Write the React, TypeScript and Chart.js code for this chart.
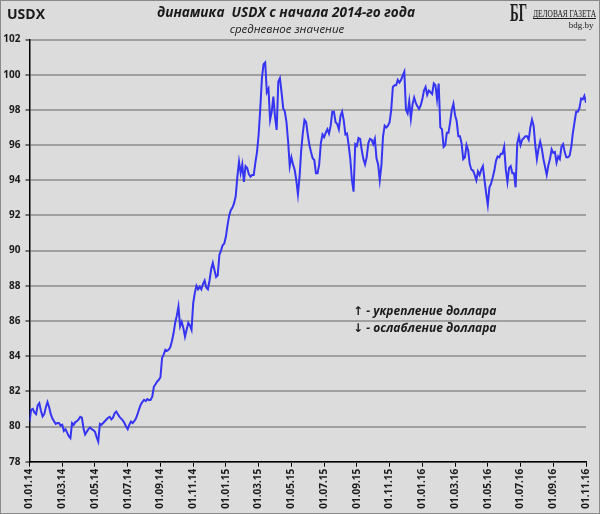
import { useEffect, useRef } from 'react'
import { Chart, registerables, Plugin } from 'chart.js'

Chart.register(...registerables)

// labels every 2 months, 01.01.14 .. 01.11.16
const tickLabels = [
  '01.01.14', '01.03.14', '01.05.14', '01.07.14', '01.09.14', '01.11.14',
  '01.01.15', '01.03.15', '01.05.15', '01.07.15', '01.09.15', '01.11.15',
  '01.01.16', '01.03.16', '01.05.16', '01.07.16', '01.09.16', '01.11.16',
]

// USDX, every 0.1 month (about every 3 days)
const usdx2014 = [
  80.3, 80.95, 81.0, 80.8, 80.7, 81.2, 81.33, 80.9, 80.57, 80.7,
  81.1, 81.39, 81.1, 80.7, 80.45, 80.3, 80.15, 80.2, 80.2, 80.05,
  80.1, 79.75, 79.85, 79.65, 79.45, 79.34, 80.2, 80.1, 80.25, 80.3,
  80.4, 80.55, 80.5, 79.9, 79.55, 79.7, 79.85, 79.95, 79.85, 79.8,
  79.7, 79.4, 79.15, 80.15, 80.1, 80.2, 80.3, 80.4, 80.5, 80.55,
  80.4, 80.5, 80.75, 80.85, 80.7, 80.55, 80.45, 80.35, 80.2, 80.0,
  79.85, 80.1, 80.28, 80.2, 80.3, 80.45, 80.7, 81.0, 81.25, 81.4,
  81.52, 81.45, 81.56, 81.5, 81.52, 81.7, 82.27, 82.4, 82.56, 82.65,
  82.8, 83.9, 84.1, 84.36, 84.3, 84.36, 84.5, 84.85, 85.3, 85.9,
  86.3, 86.82, 85.69, 85.95, 85.6, 85.11, 85.5, 85.9, 85.75, 85.5,
  87.0, 87.6, 88.0, 87.8, 87.95, 87.8, 88.1, 88.3, 87.9, 87.8,
  88.3, 88.95, 89.3, 88.9, 88.5, 88.6, 89.75, 90.0, 90.3, 90.4,
]

const usdx2015 = [
  90.8, 91.45, 92.0, 92.3, 92.45, 92.7, 93.1, 94.2, 95.05, 94.4,
  94.9, 93.9, 94.8, 94.7, 94.35, 94.2, 94.3, 94.3, 95.0, 95.6,
  96.6, 98.1, 99.8, 100.6, 100.7, 99.0, 99.2, 97.43, 97.9, 98.75,
  97.6, 96.86, 99.6, 99.8, 99.0, 98.1, 97.9, 97.3, 96.2, 94.8,
  95.3, 94.9, 94.6, 94.0, 93.2, 94.2, 95.7, 96.7, 97.43, 97.3,
  96.6, 96.0, 95.6, 95.25, 95.15, 94.4, 94.4, 94.9, 96.1, 96.6,
  96.45, 96.7, 96.9, 96.65, 97.1, 97.9, 97.9, 97.3, 97.2, 96.9,
  97.65, 97.9, 97.4, 96.6, 96.65, 96.0, 95.2, 94.0, 93.35, 96.05,
  95.95, 96.4, 96.35, 95.7, 95.2, 94.9, 95.3, 96.1, 96.35, 96.3,
  96.05, 96.35, 95.25, 94.9, 94.0, 94.85, 96.5, 97.1, 97.0, 97.1,
  97.3, 98.0, 99.3, 99.4, 99.4, 99.7, 99.55, 99.7, 99.95, 100.17,
  98.0, 97.8, 98.5, 97.5, 98.3, 98.7, 98.4, 98.2, 98.05, 98.25,
]

const usdx2016 = [
  98.6, 99.1, 99.3, 98.85, 99.1, 99.0, 98.9, 99.5, 99.4, 98.6,
  99.5, 97.0, 96.9, 95.9, 96.0, 96.7, 96.7, 97.3, 98.0, 98.35,
  97.7, 97.35, 96.5, 96.5, 96.1, 95.2, 95.3, 96.0, 95.7, 94.9,
  94.6, 94.55, 94.3, 94.0, 94.5, 94.3, 94.6, 94.8, 94.0, 93.25,
  92.6, 93.6, 93.8, 94.15, 94.55, 95.1, 95.35, 95.3, 95.5, 95.5,
  95.9, 94.6, 93.9, 94.7, 94.8, 94.4, 94.4, 93.6, 96.1, 96.5,
  96.0, 96.3, 96.4, 96.5, 96.5, 96.3, 97.0, 97.45, 97.1, 96.0,
  95.2, 95.8, 96.2, 95.8, 95.2, 94.75, 94.3, 94.85, 95.2, 95.75,
  95.55, 95.6, 95.0, 95.35, 95.2, 95.9, 96.05, 95.6, 95.3, 95.3,
  95.4, 95.9, 96.7, 97.3, 97.9, 97.9, 98.1, 98.65, 98.6, 98.8,
  98.4,
]

const SAMPLES_PER_MONTH = 10

const SANS = '"Open Sans", "DejaVu Sans", sans-serif'
const SERIF = '"Liberation Serif", "DejaVu Serif", serif'
const TEXT = '#1a1a1a'

const decor: Plugin<'line'> = {
  id: 'decor',
  beforeDraw(chart) {
    const { ctx, width, height } = chart
    ctx.save()
    ctx.fillStyle = '#dcdcdc'
    ctx.fillRect(0, 0, width, height)
    ctx.restore()
  },
  afterDraw(chart) {
    const { ctx, width, height } = chart
    ctx.save()
    ctx.strokeStyle = '#8a8a8a'
    ctx.lineWidth = 1
    ctx.strokeRect(0.5, 0.5, width - 1, height - 1)

    ctx.fillStyle = TEXT
    ctx.textBaseline = 'middle'

    ctx.textAlign = 'left'
    ctx.font = `bold 14px ${SANS}`
    ctx.fillText('USDX', 7, 15)

    ctx.textAlign = 'center'
    ctx.font = `italic bold 15px ${SANS}`
    ctx.fillText('динамика  USDX с начала 2014-го года', 286, 13, 258)
    ctx.font = `italic 11.5px ${SANS}`
    ctx.fillText('средневное значение', 287, 30)

    // logo
    ctx.textBaseline = 'alphabetic'
    ctx.textAlign = 'left'
    ctx.font = `bold 26px ${SERIF}`
    ctx.fillText('БГ', 510, 21, 17)
    ctx.font = `11px ${SERIF}`
    ctx.fillText('ДЕЛОВАЯ ГАЗЕТА', 533, 16.5, 63)
    ctx.fillRect(533, 18, 63, 1)
    ctx.textAlign = 'center'
    ctx.font = `9px ${SERIF}`
    ctx.fillText('bdg.by', 581, 28)

    // note
    ctx.textAlign = 'left'
    ctx.textBaseline = 'middle'
    ctx.font = `italic bold 12px ${SANS}`
    ctx.fillText('↑ - укрепление доллара', 353, 312)
    ctx.fillText('↓ - ослабление доллара', 353, 329)
    ctx.restore()
  },
}

export default function App() {
  const canvasRef = useRef<HTMLCanvasElement>(null)
  const chartRef = useRef<Chart | null>(null)

  useEffect(() => {
    document.body.style.margin = '0'
    if (!canvasRef.current) return
    if (chartRef.current) chartRef.current.destroy()

    const points = [...usdx2014, ...usdx2015, ...usdx2016].map((v, i) => ({
      x: i / SAMPLES_PER_MONTH,
      y: v,
    }))

    const tickFont = { family: SANS, size: 10, weight: 'bold' as const }

    chartRef.current = new Chart(canvasRef.current, {
      type: 'line',
      data: {
        datasets: [
          {
            label: 'USDX',
            data: points,
            borderColor: '#3434f2',
            borderWidth: 2,
            pointRadius: 0,
            tension: 0,
            fill: false,
          },
        ],
      },
      options: {
        responsive: true,
        maintainAspectRatio: false,
        animation: false,
        layout: { padding: { top: 39.5, right: 7.3, bottom: 0, left: 0 } },
        plugins: {
          legend: { display: false },
          tooltip: { enabled: false },
        },
        scales: {
          x: {
            type: 'linear',
            min: 0,
            max: 34,
            afterFit: (s) => {
              s.height = 52.3
            },
            afterBuildTicks: (s) => {
              s.ticks = tickLabels.map((_, i) => ({ value: i * 2 }))
            },
            ticks: {
              autoSkip: false,
              minRotation: 90,
              maxRotation: 90,
              padding: 2,
              color: TEXT,
              font: tickFont,
              callback: (v) => tickLabels[Math.round(Number(v) / 2)] ?? '',
            },
            grid: {
              drawOnChartArea: false,
              drawTicks: true,
              tickLength: 5,
              tickColor: '#000',
              tickWidth: 1,
            },
            border: { display: true, color: '#000', width: 1.5 },
          },
          y: {
            min: 78,
            max: 102,
            afterFit: (s) => {
              s.width = 29.5
            },
            ticks: {
              stepSize: 2,
              padding: 5,
              color: TEXT,
              font: tickFont,
            },
            grid: {
              color: '#a0a0a0',
              lineWidth: 2,
              tickLength: 4,
              tickColor: '#000',
              tickWidth: 1,
            },
            border: { display: true, color: '#000', width: 1.5 },
          },
        },
      },
      plugins: [decor],
    })

    return () => {
      if (chartRef.current) {
        chartRef.current.destroy()
        chartRef.current = null
      }
    }
  }, [])

  return (
    <div style={{ width: 600, height: 514, position: 'relative' }}>
      <canvas ref={canvasRef}></canvas>
    </div>
  )
}
